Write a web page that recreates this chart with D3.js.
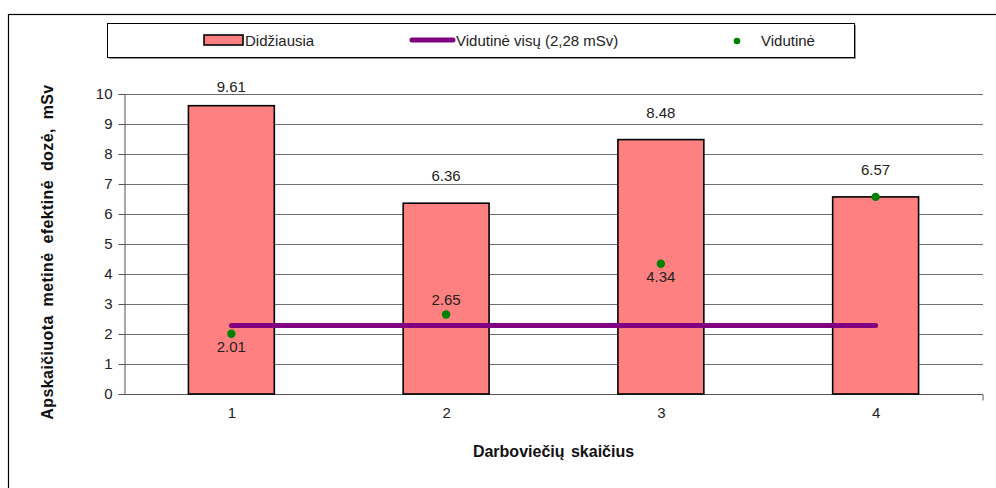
<!DOCTYPE html>
<html><head><meta charset="utf-8">
<script src="https://cdn.jsdelivr.net/npm/d3@7"></script>
<style>body{margin:0;background:#fff;}svg{display:block;font-family:"Liberation Sans",Arial,sans-serif;}</style>
</head><body><svg id="c" width="996" height="488"></svg>
<script>
const categories = ["1","2","3","4"];
const maxValues = [9.61, 6.36, 8.48, 6.57];
const avgValues = [2.01, 2.65, 4.34, 6.57];
const overallAvg = 2.28;
const yTicks = [0,1,2,3,4,5,6,7,8,9,10];
const seriesNames = ["Didžiausia", "Vidutinė visų (2,28 mSv)", "Vidutinė"];
const yTitle = "Apskaičiuota metinė efektinė dozė, mSv";
const xTitle = "Darboviečių skaičius";
const avgLabelPos = ["below","above","below",null];

const svg = d3.select("#c");
const m = {left:124, right:983, top:94, bottom:394};
const x = d3.scaleBand().domain(categories).range([m.left, m.right]).paddingInner(0.6).paddingOuter(0.3);
const xc = d3.scalePoint().domain(categories).range([m.left, m.right]).padding(0.5);
const y = d3.scaleLinear().domain([0,10]).range([m.bottom, m.top]);
const FS = 15;

svg.append("rect").attr("x",8.5).attr("y",14.5).attr("width",1000).attr("height",500)
  .attr("fill","none").attr("stroke","#000").attr("stroke-width",1.2);

svg.append("g").selectAll("line").data(yTicks.filter(d=>d>0)).join("line")
  .attr("x1",m.left).attr("x2",m.right).attr("y1",d=>Math.round(y(d))+0.5).attr("y2",d=>Math.round(y(d))+0.5)
  .attr("stroke","#6e6e6e").attr("stroke-width",1);

const ya = svg.append("g").attr("transform",`translate(${m.left+0.5},0)`)
  .call(d3.axisLeft(y).tickValues(yTicks).tickSize(6).tickPadding(6).tickFormat(d3.format("d")));
ya.select(".domain").attr("stroke","#555");
ya.selectAll(".tick line").attr("stroke","#555");
ya.selectAll("text").attr("font-size",FS).attr("fill","#222").attr("font-family","Liberation Sans, Arial");

const xa = svg.append("g").attr("transform",`translate(0,${m.bottom+0.5})`)
  .call(d3.axisBottom(xc).tickSize(0).tickPadding(13));
xa.select(".domain").attr("stroke","#555").attr("d",`M${m.left},0H${m.right}V6`);
xa.selectAll("text").attr("font-size",FS).attr("fill","#222").attr("font-family","Liberation Sans, Arial");

svg.append("g").selectAll("rect").data(maxValues).join("rect")
  .attr("x",(d,i)=>x(categories[i])).attr("width",x.bandwidth())
  .attr("y",d=>y(d)).attr("height",d=>y(0)-y(d))
  .attr("fill","#FF8080").attr("stroke","#000").attr("stroke-width",1.6);

svg.append("g").selectAll("text").data(maxValues).join("text")
  .attr("x",(d,i)=>xc(categories[i])).attr("y",d=>Math.max(y(d)-22, y(10)-2))
  .attr("text-anchor","middle").attr("font-size",FS).attr("fill","#222").text(d=>d.toFixed(2));

svg.append("line").attr("x1",xc(categories[0])).attr("x2",xc(categories[categories.length-1]))
  .attr("y1",y(overallAvg)).attr("y2",y(overallAvg))
  .attr("stroke","#800080").attr("stroke-width",5).attr("stroke-linecap","round");

svg.append("g").selectAll("circle").data(avgValues).join("circle")
  .attr("cx",(d,i)=>xc(categories[i])).attr("cy",d=>y(d)).attr("r",4.2).attr("fill","#008000");

svg.append("g").selectAll("text").data(avgValues.map((v,i)=>({v,i,p:avgLabelPos[i]})).filter(d=>d.p)).join("text")
  .attr("x",d=>xc(categories[d.i])).attr("y",d=>d.p==="below"? y(d.v)+18 : y(d.v)-10)
  .attr("text-anchor","middle").attr("font-size",FS).attr("fill","#222").text(d=>d.v.toFixed(2));

svg.append("text").attr("x",(m.left+m.right)/2).attr("y",457).attr("text-anchor","middle")
  .attr("font-size",16).attr("font-weight","bold").attr("word-spacing",2).attr("fill","#111").text(xTitle);
svg.append("text").attr("transform","translate(53,252) rotate(-90)").attr("text-anchor","middle")
  .attr("font-size",16).attr("font-weight","bold").attr("word-spacing",4).attr("letter-spacing",0.4).attr("fill","#111").text(yTitle);

const lg = svg.append("g");
lg.append("rect").attr("x",109).attr("y",25).attr("width",747).attr("height",34).attr("fill","#999");
lg.append("rect").attr("x",107.5).attr("y",23.5).attr("width",747).attr("height",34).attr("fill","#fff").attr("stroke","#000");
lg.append("rect").attr("x",204).attr("y",35).attr("width",39).attr("height",10).attr("fill","#FF8080").attr("stroke","#000").attr("stroke-width",1.6);
lg.append("text").attr("x",245).attr("y",46).attr("font-size",FS).attr("fill","#222").text(seriesNames[0]);
lg.append("line").attr("x1",412).attr("x2",453).attr("y1",40).attr("y2",40).attr("stroke","#800080").attr("stroke-width",5).attr("stroke-linecap","round");
lg.append("text").attr("x",456).attr("y",46).attr("font-size",FS).attr("fill","#222").text(seriesNames[1]);
lg.append("circle").attr("cx",737).attr("cy",41).attr("r",3.3).attr("fill","#008000");
lg.append("text").attr("x",761).attr("y",46).attr("font-size",FS).attr("fill","#222").text(seriesNames[2]);
</script></body></html>
